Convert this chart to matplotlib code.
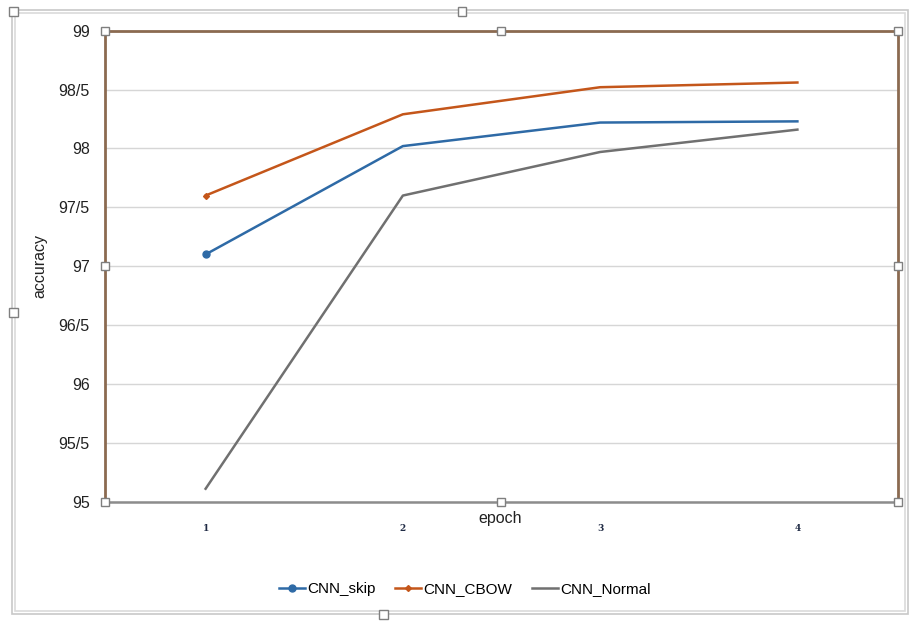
import matplotlib
matplotlib.use('Agg')
from matplotlib import pyplot as plt
from matplotlib.patches import Rectangle
from matplotlib.legend_handler import HandlerLine2D

# data
epochs = [1, 2, 3, 4]
cnn_skip = [97.10, 98.02, 98.22, 98.23]
cnn_cbow = [97.60, 98.29, 98.52, 98.56]
cnn_normal = [95.11, 97.60, 97.97, 98.16]
y_ticks = [95, 95.5, 96, 96.5, 97, 97.5, 98, 98.5, 99]
y_labels = ['95', '95/5', '96', '96/5', '97', '97/5', '98', '98/5', '99']

plt.rcParams['font.family'] = ['Liberation Sans', 'DejaVu Sans']


class LeftMarkerHandler(HandlerLine2D):
    # legend marker sits at the left end of the line, like in Excel
    def get_xdata(self, legend, xdescent, ydescent, width, height, fontsize):
        xdata = [-xdescent, -xdescent + width]
        return xdata, [-xdescent]


W, H = 910, 621
fig = plt.figure(figsize=(W / 100, H / 100), dpi=100)

# plot area in pixels
left, top, right, bottom = 105, 30.7, 898, 501.7
ax = fig.add_axes([left / W, 1 - bottom / H, (right - left) / W, (bottom - top) / H])

blue = '#2E6AA6'
orange = '#C4561A'
gray = '#707070'

ax.plot(epochs, cnn_skip, color=blue, lw=1.8, marker='o', ms=5, markevery=[0], label='CNN_skip')
ax.plot(epochs, cnn_cbow, color=orange, lw=1.8, marker='D', ms=3, markevery=[0], label='CNN_CBOW')
ax.plot(epochs, cnn_normal, color=gray, lw=1.8, label='CNN_Normal')

ax.set_xlim(0.49, 4.51)
ax.set_ylim(95, 99)
ax.set_yticks(y_ticks)
ax.set_yticklabels(y_labels)
ax.set_xticks(epochs)
ax.set_xticklabels([str(e) for e in epochs], family='DejaVu Serif', fontweight='bold',
                   fontsize=6.5, color='#1F2A44')
ax.tick_params(axis='y', length=0, pad=11, labelsize=11.5, labelcolor='#222222')
ax.tick_params(axis='x', length=0, pad=16)
ax.grid(axis='y', color='#D6D6D6', lw=1)
ax.set_axisbelow(True)

brown = '#8B6A50'
for s in ['left', 'top', 'right']:
    ax.spines[s].set_color(brown)
    ax.spines[s].set_linewidth(2)
ax.spines['bottom'].set_color('#8C8C8C')
ax.spines['bottom'].set_linewidth(1.8)

fig.text(500 / W, 1 - 519 / H, 'epoch', ha='center', va='center', fontsize=11.5, color='#222222')
fig.text(40 / W, 1 - 266 / H, 'accuracy', ha='center', va='center', rotation=90,
         fontsize=11.5, color='#222222')

fig.legend(loc='center', bbox_to_anchor=(465 / W, 1 - 589 / H), ncol=3, frameon=False,
           fontsize=11, handlelength=1.7, handletextpad=0.15, columnspacing=1.3,
           numpoints=1, handler_map={plt.Line2D: LeftMarkerHandler()})

# outer chart frame (double light gray line)
for off, c in [(0, '#C8C8C8'), (3, '#DADADA')]:
    fig.patches.append(Rectangle(((12 + off) / W, 1 - (614 - off) / H), (896 - 2 * off) / W,
                                 (604 - 2 * off) / H, transform=fig.transFigure,
                                 fill=False, ec=c, lw=1.2))


# selection handles
def handle(x, y, s=8):
    fig.patches.append(Rectangle(((x - s / 2) / W, 1 - (y + s / 2) / H), s / W, s / H,
                                 transform=fig.transFigure, fc='white', ec='#7F7F7F',
                                 lw=1, zorder=10))


mx, my = (left + right) / 2, (top + bottom) / 2
for hx, hy in [(left, top), (mx, top), (right, top), (left, my), (right, my),
               (left, bottom), (mx, bottom), (right, bottom)]:
    handle(hx, hy)
for hx, hy in [(13, 11), (462, 11), (13, 312), (383, 614)]:
    handle(hx, hy, 9)

fig.savefig('out.png', dpi=100)
